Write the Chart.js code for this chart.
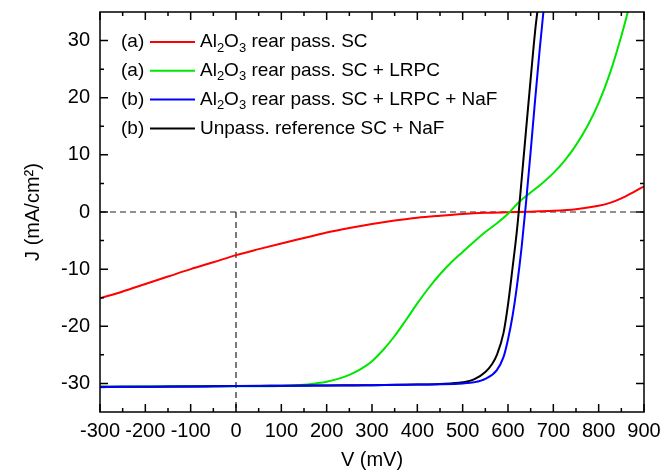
<!DOCTYPE html>
<html>
<head>
<meta charset="utf-8" />
<title>J-V</title>
<script src="https://cdn.jsdelivr.net/npm/chart.js@4.4.0/dist/chart.umd.min.js"></script>
<style>
  body { margin: 0; background: #fff; }
</style>
</head>
<body>
<canvas id="jv" width="664" height="472"></canvas>
<script>
// axis tick labels
const xTicks = [-300, -200, -100, 0, 100, 200, 300, 400, 500, 600, 700, 800, 900];
const yTicks = [-30, -20, -10, 0, 10, 20, 30];

// legend
const seriesTags = ['(a)', '(a)', '(b)', '(b)'];
const seriesNames = [
  'Al₂O₃ rear pass. SC',
  'Al₂O₃ rear pass. SC + LRPC',
  'Al₂O₃ rear pass. SC + LRPC + NaF',
  'Unpass. reference SC + NaF'
];
const seriesColors = ['#ff0000', '#00e600', '#0000ff', '#000000'];

// V in mV, J in mA/cm2
const vRed = [-300, -250, -200, -150, -100, -50, 0, 50, 100, 150, 200, 250, 300, 350, 400, 450, 500, 550, 600, 650, 700, 750, 800, 825, 850, 875, 900];
const jRed = [-15.1, -13.9, -12.6, -11.3, -10.0, -8.8, -7.55, -6.5, -5.5, -4.55, -3.6, -2.8, -2.1, -1.5, -1.0, -0.65, -0.35, -0.15, -0.05, 0.05, 0.2, 0.5, 1.1, 1.6, 2.4, 3.4, 4.5];

const vGreen = [-300, -200, -100, 0, 100, 150, 175, 200, 225, 250, 275, 300, 325, 350, 375, 400, 425, 450, 475, 500, 525, 550, 575, 600, 625, 650, 675, 700, 725, 750, 775, 800, 825, 850, 866];
const jGreen = [-30.6, -30.55, -30.5, -30.5, -30.45, -30.25, -30.0, -29.7, -29.2, -28.5, -27.5, -26.1, -24.1, -21.7, -18.9, -16.0, -13.3, -10.9, -8.8, -7.0, -5.2, -3.5, -2.0, -0.3, 1.8, 3.4, 5.0, 6.8, 9.0, 11.7, 15.0, 19.1, 24.3, 30.8, 35.5];

const vBlue = [-300, -250, -200, -150, -100, -50, 0, 50, 100, 150, 200, 250, 300, 350, 400, 450, 500, 525, 550, 575, 590, 600, 610, 620, 630, 640, 650, 660, 670, 680];
const jBlue = [-30.65, -30.6, -30.6, -30.55, -30.55, -30.5, -30.45, -30.45, -30.4, -30.4, -30.35, -30.35, -30.3, -30.25, -30.2, -30.15, -30.0, -29.8, -29.2, -27.7, -25.4, -22.3, -18.2, -12.8, -6.2, 1.8, 10.6, 19.8, 28.5, 36.5];

const vBlack = [-300, -200, -100, 0, 100, 200, 300, 400, 450, 500, 525, 550, 565, 575, 590, 600, 610, 620, 630, 640, 650, 660, 667];
const jBlack = [-30.6, -30.6, -30.55, -30.45, -30.4, -30.35, -30.3, -30.2, -30.1, -29.8, -29.3, -28.0, -26.6, -25.1, -21.2, -16.2, -9.8, -3.0, 5.6, 14.5, 23.3, 31.8, 36.5];

// dashed guides at J = 0 and V = 0
const zeroH = [{x: -300, y: 0}, {x: 900, y: 0}];
const zeroV = [{x: 0, y: 0}, {x: 0, y: -35}];

const FONT = '"Liberation Sans", Arial, sans-serif';

function pts(vs, js) {
  return vs.map((v, i) => ({x: v, y: js[i]}));
}

function curve(i, vs, js, order) {
  return {
    label: seriesNames[i],
    data: pts(vs, js),
    borderColor: seriesColors[i],
    borderWidth: 2,
    pointRadius: 0,
    cubicInterpolationMode: 'monotone',
    order: order
  };
}

function guide(data) {
  return {
    data: data,
    borderColor: '#222',
    borderWidth: 1.2,
    borderDash: [6, 4],
    pointRadius: 0,
    order: 10
  };
}

// text with unicode subscripts drawn small and lowered
function drawRich(ctx, text, x, y) {
  const subs = {'₂': '2', '₃': '3'};
  for (const ch of text) {
    if (subs[ch]) {
      ctx.font = '13px ' + FONT;
      ctx.fillText(subs[ch], x, y + 6);
      x += ctx.measureText(subs[ch]).width;
    } else {
      ctx.font = '19px ' + FONT;
      ctx.fillText(ch, x, y);
      x += ctx.measureText(ch).width;
    }
  }
}

// frame, inward ticks on all sides and the legend
const framePlugin = {
  id: 'frame',
  afterDatasetsDraw(chart) {
    const {ctx, chartArea: a, scales: {x, y}} = chart;
    ctx.save();
    ctx.strokeStyle = '#000';
    ctx.lineWidth = 1.5;
    ctx.beginPath();
    for (let v = x.min; v <= x.max; v += 50) {
      const px = x.getPixelForValue(v);
      const len = v % 100 === 0 ? 8 : 4;
      ctx.moveTo(px, a.bottom); ctx.lineTo(px, a.bottom - len);
      ctx.moveTo(px, a.top); ctx.lineTo(px, a.top + len);
    }
    for (let v = -30; v <= 30; v += 5) {
      const py = y.getPixelForValue(v);
      const len = v % 10 === 0 ? 8 : 4;
      ctx.moveTo(a.left, py); ctx.lineTo(a.left + len, py);
      ctx.moveTo(a.right, py); ctx.lineTo(a.right - len, py);
    }
    ctx.stroke();
    ctx.strokeRect(a.left, a.top, a.right - a.left, a.bottom - a.top);

    ctx.textBaseline = 'middle';
    ctx.textAlign = 'left';
    seriesNames.forEach((name, i) => {
      const cy = 42 + i * 28.8;
      ctx.fillStyle = '#000';
      ctx.font = '19px ' + FONT;
      ctx.fillText(seriesTags[i], 121, cy);
      ctx.strokeStyle = seriesColors[i];
      ctx.lineWidth = 2;
      ctx.beginPath();
      ctx.moveTo(150, cy); ctx.lineTo(195, cy);
      ctx.stroke();
      drawRich(ctx, name, 200, cy);
    });
    ctx.restore();
  }
};

// drop the label overhang padding so the plot box sits where the layout padding says
function noOverhang(s) {
  s.paddingTop = 0; s.paddingBottom = 0; s.paddingLeft = 0; s.paddingRight = 0;
}

new Chart(document.getElementById('jv'), {
  type: 'line',
  data: {
    datasets: [
      curve(0, vRed, jRed, 3),
      curve(1, vGreen, jGreen, 2),
      curve(2, vBlue, jBlue, 0),
      curve(3, vBlack, jBlack, 1),
      guide(zeroH),
      guide(zeroV)
    ]
  },
  options: {
    responsive: false,
    animation: false,
    parsing: false,
    layout: {padding: {top: 12, right: 20, left: 0, bottom: 0}},
    plugins: {legend: {display: false}, tooltip: {enabled: false}},
    scales: {
      x: {
        type: 'linear',
        min: -300,
        max: 900,
        afterBuildTicks: s => { s.ticks = xTicks.map(v => ({value: v})); },
        afterFit: s => { s.height = 60; noOverhang(s); },
        grid: {display: false, drawTicks: false},
        border: {display: false},
        ticks: {color: '#000', font: {size: 20, family: FONT}, padding: 7, maxRotation: 0, autoSkip: false},
        title: {display: true, text: 'V (mV)', color: '#000', font: {size: 20, family: FONT}, padding: {top: 0, bottom: 0}}
      },
      y: {
        type: 'linear',
        min: -35,
        max: 35,
        afterBuildTicks: s => { s.ticks = yTicks.map(v => ({value: v})); },
        afterFit: s => { s.width = 100; noOverhang(s); },
        grid: {display: false, drawTicks: false},
        border: {display: false},
        ticks: {color: '#000', font: {size: 20, family: FONT}, padding: 10},
        title: {display: true, text: 'J (mA/cm²)', color: '#000', font: {size: 20, family: FONT}, padding: {top: 21, bottom: 0}}
      }
    }
  },
  plugins: [framePlugin]
});
</script>
</body>
</html>
